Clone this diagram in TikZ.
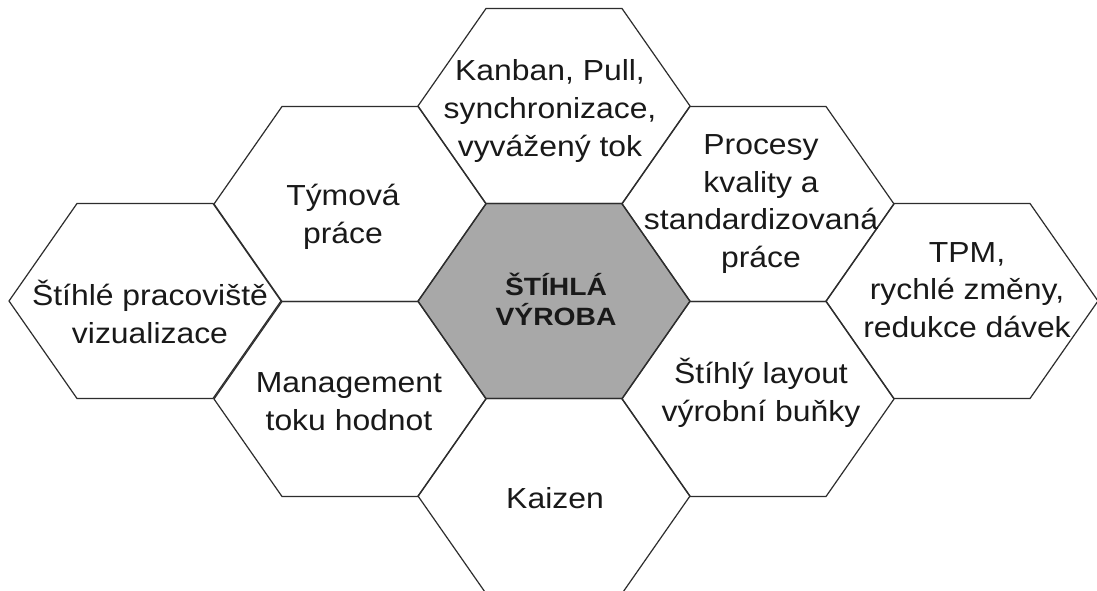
\documentclass[tikz,border=0pt]{standalone}
\usepackage{fontspec}
\setmainfont{Liberation Sans}
\newfontfamily\cellfont[FakeStretch=1.1]{Liberation Sans}
\newfontfamily\corefont[FakeStretch=1.13]{Liberation Sans}
\definecolor{edge}{RGB}{45,45,45}
\definecolor{corefill}{RGB}{168,168,168}
\definecolor{ink}{RGB}{25,25,25}

% one flat-topped hexagon centred on a named coordinate
\newcommand\hexcell[4][]{%
  \coordinate (#2) at (#3,#4);
  \draw[hexline,#1,shift={(#2)}]
    (-136,0) -- (-68,-97.5) -- (68,-97.5) -- (136,0)
    -- (68,97.5) -- (-68,97.5) -- cycle;
}

\tikzset{
  hexline/.style={draw=edge, line width=1.2pt, line join=miter},
  celltext/.style={anchor=base, inner sep=0pt, align=center, text=ink,
    font=\cellfont\fontsize{29}{37.5}\selectfont},
  coretext/.style={anchor=base, inner sep=0pt, align=center, text=ink,
    font=\corefont\bfseries\fontsize{25}{30}\selectfont},
}

\begin{document}
\begin{tikzpicture}[x=1pt,y=-1pt]
\useasboundingbox[fill=white] (0,0) rectangle (1097,591);

% honeycomb
\hexcell[fill=corefill]{core}{554}{301}
\hexcell{kanban}{554}{106}
\hexcell{team}{350}{204}
\hexcell{workplace}{145}{301}
\hexcell{vsm}{350}{399}
\hexcell{kaizen}{554}{496}
\hexcell{quality}{758}{204}
\hexcell{layout}{758}{399}
\hexcell{tpm}{962}{301}

% labels (each placed on the baseline of its last line)
\node[coretext]  (tcore)      at (556,325)   {ŠTÍHLÁ\\VÝROBA};
\node[celltext]  (tkanban)    at (550,156)   {Kanban, Pull,\\synchronizace,\\vyvážený tok};
\node[celltext]  (tteam)      at (343,243)   {Týmová\\práce};
\node[celltext]  (tworkplace) at (150,343)   {Štíhlé pracoviště\\vizualizace};
\node[celltext]  (tvsm)       at (349,430)   {Management\\toku hodnot};
\node[celltext]  (tkaizen)    at (555,508)   {Kaizen};
\node[celltext]  (tquality)   at (761,267)   {Procesy\\kvality a\\standardizovaná\\práce};
\node[celltext]  (tlayout)    at (761,421)   {Štíhlý layout\\výrobní buňky};
\node[celltext]  (ttpm)       at (967,337)   {TPM,\\rychlé změny,\\redukce dávek};
\end{tikzpicture}
\end{document}
